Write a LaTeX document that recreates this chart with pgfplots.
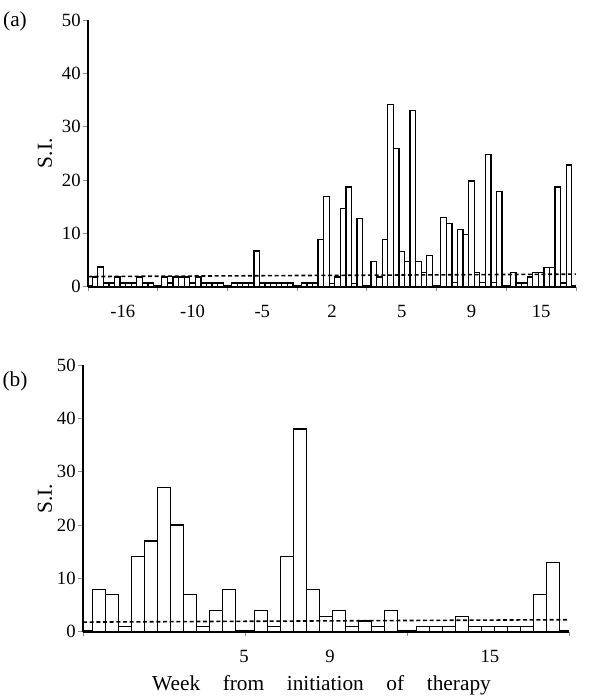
\documentclass[border=0pt]{standalone}
\usepackage{fontspec}
\setmainfont{Liberation Serif}
\usepackage{pgfplots}
\pgfplotsset{compat=1.18}
\usepackage{pgfplotstable}

\pgfplotstableread{
x y
0.10 1.8
0.18 3.7
0.26 0.7
0.34 0.7
0.42 1.8
0.50 0.7
0.58 0.7
0.66 0.7
0.74 1.8
0.82 0.7
0.90 0.7
1.10 1.8
1.18 0.7
1.26 1.8
1.34 1.8
1.42 1.8
1.50 0.7
1.58 1.8
1.66 0.7
1.74 0.7
1.82 0.7
1.90 0.7
2.10 0.7
2.18 0.7
2.26 0.7
2.34 0.7
2.42 6.7
2.50 0.7
2.58 0.7
2.66 0.7
2.74 0.7
2.82 0.7
2.90 0.7
3.10 0.7
3.18 0.7
3.26 0.7
3.34 8.8
3.42 16.9
3.50 0.6
3.58 1.8
3.66 14.7
3.74 18.7
3.82 0.6
3.90 12.8
4.10 4.7
4.18 1.8
4.26 8.8
4.34 34.1
4.42 25.9
4.50 6.6
4.58 4.7
4.66 33.0
4.74 4.7
4.82 2.6
4.90 5.8
5.10 12.9
5.18 11.8
5.26 0.75
5.34 10.7
5.42 9.8
5.50 19.8
5.58 2.6
5.66 0.75
5.74 24.8
5.82 0.75
5.90 17.9
6.10 2.6
6.18 0.7
6.26 0.7
6.34 1.8
6.42 2.6
6.50 2.6
6.58 3.6
6.66 3.6
6.74 18.7
6.82 0.7
6.90 22.8
}\dataA

\pgfplotstableread{
x y
0.10 7.9
0.18 6.9
0.26 0.9
0.34 14.1
0.42 17.0
0.50 27.1
0.58 20.0
0.66 6.9
0.74 0.9
0.82 3.9
0.90 7.9
1.10 3.9
1.18 0.9
1.26 14.1
1.34 38.0
1.42 7.9
1.50 2.8
1.58 3.9
1.66 0.9
1.74 2.0
1.82 0.9
1.90 3.9
2.10 0.9
2.18 0.9
2.26 0.9
2.34 2.9
2.42 0.9
2.50 0.9
2.58 0.9
2.66 0.9
2.74 0.9
2.82 6.9
2.90 13.0
}\dataB

\begin{document}
\begin{tikzpicture}
\useasboundingbox (0,0) rectangle (450pt,522pt);
\pgfplotsset{
  panel/.style={
    scale only axis, height=200pt,
    ymin=0, ymax=50, ytick={0,10,20,30,40,50},
    axis x line=bottom, axis y line=left,
    axis line style={line width=2.2pt, -},
    tick align=outside, major tick length=3.5pt,
    every tick/.style={black!45, line width=0.6pt},
    tick label style={font=\fontsize{14}{16}\selectfont},
    xticklabel style={yshift=-7pt},
    yticklabel style={xshift=1.5pt},
    /pgf/number format/assume math mode=true,
    clip=false,
  }
}
\begin{axis}[panel, width=366pt, xmin=0, xmax=7, xtick={0,1,2,3,4,5,6,7},
  xticklabels={-16,-10,-5,2,5,9,15}, x tick label as interval,
  at={(66pt,306.975pt)}, anchor=south west]
\addplot[ybar, bar width=0.08, fill=white, draw=black, line width=0.9pt] table {\dataA};
\addplot[black, line width=1.2pt, dash pattern=on 3pt off 2pt] coordinates {(0,1.9) (7,2.35)};
\end{axis}

\begin{axis}[panel, width=364.5pt, xmin=0, xmax=3, xtick={0,1,2,3}, xticklabels={},
  extra x ticks={0.994,1.525,2.512}, extra x tick labels={5,9,15},
  extra x tick style={major tick length=0pt, xticklabel style={yshift=-3.5pt}},
  at={(62.25pt,48.225pt)}, anchor=south west]
\addplot[ybar, bar width=0.08, fill=white, draw=black, line width=0.9pt] table {\dataB};
\addplot[black, line width=1.2pt, dash pattern=on 3pt off 2pt] coordinates {(0,1.8) (3,2.25)};
\end{axis}

\node[font=\fontsize{16}{18}\selectfont] at (11.25pt,506pt) {(a)};
\node[font=\fontsize{16}{18}\selectfont] at (11.25pt,236.25pt) {(b)};
\node[font=\fontsize{16}{18}\selectfont, rotate=90] at (33.75pt,407pt) {S.I.};
\node[font=\fontsize{16}{18}\selectfont, rotate=90] at (33.75pt,148pt) {S.I.};
\node[font=\fontsize{16}{18}\selectfont, anchor=base, inner sep=0pt] at (241.1pt,4pt) {\makebox[254pt][s]{Week from initiation of therapy}};
\end{tikzpicture}
\end{document}
